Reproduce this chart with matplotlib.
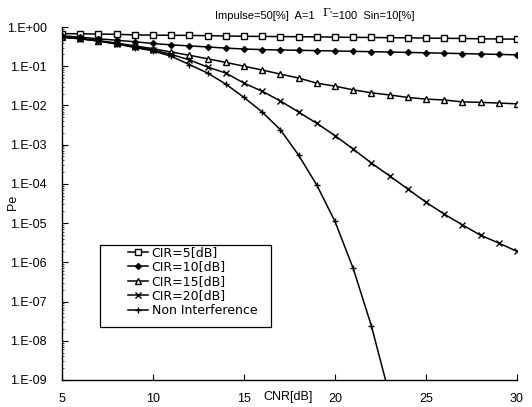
import matplotlib
matplotlib.use("Agg")
import matplotlib.pyplot as plt
from matplotlib.patches import Rectangle
from matplotlib.ticker import FixedLocator, NullFormatter

plt.rcParams['font.family'] = ['Liberation Sans', 'DejaVu Sans']

# CNR [dB]
cnr = list(range(5, 31))
cnr_ni = list(range(5, 24))

# error probability
cir5 = [0.68, 0.67, 0.66, 0.65, 0.63, 0.62, 0.615, 0.61, 0.60, 0.59, 0.58,
        0.575, 0.57, 0.565, 0.56, 0.55, 0.545, 0.54, 0.535, 0.53, 0.52,
        0.515, 0.51, 0.50, 0.495, 0.49]
cir10 = [0.60, 0.55, 0.50, 0.46, 0.42, 0.38, 0.35, 0.33, 0.31, 0.29, 0.275,
         0.265, 0.26, 0.255, 0.25, 0.245, 0.24, 0.235, 0.23, 0.225, 0.22,
         0.215, 0.21, 0.205, 0.20, 0.195]
cir15 = [0.56, 0.51, 0.45, 0.39, 0.33, 0.28, 0.23, 0.19, 0.155, 0.125, 0.10,
         0.08, 0.063, 0.05, 0.037, 0.031, 0.025, 0.021, 0.0185, 0.016,
         0.0145, 0.0138, 0.0123, 0.012, 0.0115, 0.011]
cir20 = [0.55, 0.50, 0.44, 0.37, 0.31, 0.26, 0.20, 0.145, 0.095, 0.067,
         0.037, 0.023, 0.013, 0.0068, 0.0035, 0.0017, 7.7e-4, 3.4e-4, 1.6e-4,
         7.4e-5, 3.4e-5, 1.7e-5, 9e-6, 4.9e-6, 3.1e-6, 1.9e-6]
non_int = [0.55, 0.50, 0.44, 0.37, 0.30, 0.245, 0.18, 0.11, 0.067, 0.035,
           0.016, 0.0068, 0.0024, 5.4e-4, 9.3e-5, 1.1e-5, 7e-7, 2.4e-8, 4e-10]

labels = ['CIR=5[dB]', 'CIR=10[dB]', 'CIR=15[dB]', 'CIR=20[dB]',
          'Non Interference']
ytick_vals = [1e-9, 1e-8, 1e-7, 1e-6, 1e-5, 1e-4, 1e-3, 1e-2, 1e-1, 1e0]
ytick_labels = ['1.E-09', '1.E-08', '1.E-07', '1.E-06', '1.E-05',
                '1.E-04', '1.E-03', '1.E-02', '1.E-01', '1.E+00']
xtick_vals = [5, 10, 15, 20, 25, 30]

W, H = 532, 407
fig = plt.figure(figsize=(W / 100, H / 100), dpi=100)
ax = fig.add_axes([62 / W, 1 - 380 / H, 455 / W, 353 / H])

lw = 1.1
ax.plot(cnr, cir5, color='k', lw=lw, marker='s', ms=4.5, mfc='white',
        mec='k', mew=1.0, label=labels[0])
ax.plot(cnr, cir10, color='k', lw=lw, marker='D', ms=3, mfc='k',
        label=labels[1])
ax.plot(cnr, cir15, color='k', lw=lw, marker='^', ms=4.5, mfc='white',
        mec='k', mew=1.0, label=labels[2])
ax.plot(cnr, cir20, color='k', lw=lw, marker='x', ms=5, mew=1.0,
        label=labels[3])
ax.plot(cnr_ni, non_int, color='k', lw=lw, marker='+', ms=5, mew=1.0,
        label=labels[4])

ax.set_yscale('log')
ax.set_xlim(5, 30)
ax.set_ylim(1e-9, 1)

ax.yaxis.set_major_locator(FixedLocator(ytick_vals))
ax.set_yticklabels(ytick_labels)
ax.yaxis.set_minor_formatter(NullFormatter())
ax.set_xticks(xtick_vals)

ax.spines['top'].set_visible(False)
ax.spines['right'].set_visible(False)
ax.spines['left'].set_linewidth(1.0)
ax.spines['bottom'].set_linewidth(1.0)
ax.tick_params(axis='both', which='major', direction='in', length=4,
               width=0.8, labelsize=9)
ax.tick_params(axis='y', which='major', pad=11)
ax.tick_params(axis='y', which='minor', direction='in', length=1.5,
               width=0.5)
ax.tick_params(axis='x', which='major', pad=9)

fig.text(13 / W, 1 - 202 / H, 'Pe', rotation=90, fontsize=9,
         ha='center', va='center')
fig.text(263 / W, 1 - 397 / H, 'CNR[dB]', fontsize=9,
         ha='left', va='center')

fig.text(215 / W, 1 - 19 / H, 'Impulse=50[%]  A=1', fontsize=8,
         ha='left', va='baseline')
fig.text(322 / W, 1 - 16 / H, 'Γ', fontsize=8, family='DejaVu Serif',
         ha='left', va='baseline')
fig.text(330 / W, 1 - 19 / H, "'=100  Sin=10[%]", fontsize=8,
         ha='left', va='baseline')

# legend box drawn separately, entries sit with a wide left margin
fig.patches.append(Rectangle((100 / W, 1 - 327 / H), 171 / W, 82 / H,
                             transform=fig.transFigure, fill=False,
                             edgecolor='k', lw=0.9))
ax.legend(loc='upper left', bbox_to_anchor=(128 / W, 1 - 246 / H),
          bbox_transform=fig.transFigure, frameon=False,
          prop={'family': 'DejaVu Sans', 'size': 9}, handlelength=1.6,
          handletextpad=0.3, labelspacing=0.12, borderpad=0,
          borderaxespad=0)

fig.savefig('out.png', dpi=100)
